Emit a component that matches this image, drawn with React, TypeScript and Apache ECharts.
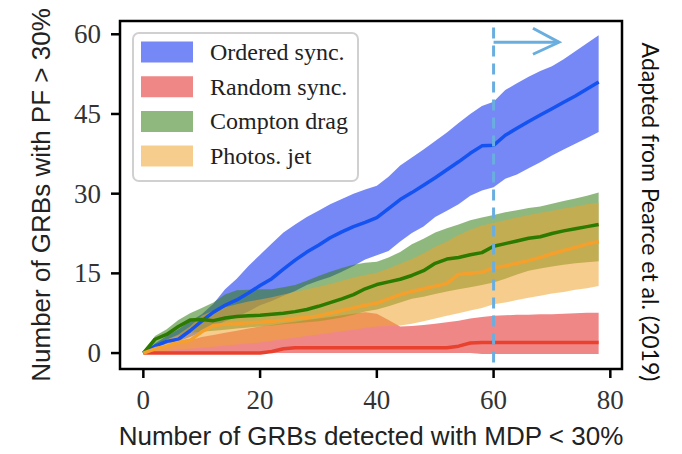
import React, { useEffect, useRef } from "react";
import * as echarts from "echarts";

// Number of GRBs detected with MDP < 30%
const xs = [0, 2, 4, 6, 8, 10, 12, 14, 16, 18, 20, 22, 24, 26, 28, 30, 32, 34, 36, 38, 40, 42, 44, 46, 48, 50, 52, 54, 56, 58, 60, 62, 64, 66, 68, 70, 72, 74, 76, 78];

// Ordered sync.
const orderedMid = [0, 1.3, 2.2, 2.6, 4.2, 6, 7.7, 9, 10, 11.3, 12.7, 14, 15.8, 17.5, 19, 20.3, 21.7, 22.8, 23.8, 24.6, 25.5, 27.2, 28.9, 30.2, 31.6, 33, 34.5, 36, 37.6, 39, 39.1, 41, 42.3, 43.6, 44.8, 46, 47.2, 48.4, 49.7, 51];
const orderedHi = [0, 1.8, 3.2, 4.5, 6, 7.3, 9.3, 12, 14, 16.4, 18.5, 20.6, 22.7, 24.2, 25.6, 26.8, 28, 29, 30, 30.8, 31.5, 33.2, 35.3, 36.8, 38.3, 39.9, 41.5, 43.3, 45, 46.5, 47.3, 49.5, 50.8, 52, 53.1, 54, 55.3, 56.8, 58.3, 59.8];
const orderedLo = [0, 1, 1.7, 2.2, 3, 4, 5, 6, 6.8, 7.8, 9, 9.8, 10.8, 11.7, 12.8, 13.6, 14.3, 15.3, 16.4, 17.6, 18.4, 19.2, 21, 22.6, 23.8, 25.6, 26.8, 28, 29.6, 30.6, 31.2, 32.8, 33.6, 34.8, 35.9, 37.2, 38.3, 39.4, 40.5, 41.6];

// Random sync.
const randomMid = [0, 0, 0, 0, 0, 0, 0, 0, 0, 0, 0, 0.3, 0.8, 1, 1, 1, 1, 1, 1, 1, 1, 1, 1, 1, 1, 1, 1, 1.3, 1.9, 2, 2, 2, 2, 2, 2, 2, 2, 2, 2, 2];
const randomHi = [0, 0.6, 1.2, 1.8, 2.4, 3, 3.4, 3.8, 4.2, 4.6, 5, 5.3, 5.6, 5.9, 6.2, 6.5, 6.8, 7.1, 7.4, 7.7, 7.4, 6.2, 5, 5.1, 5.3, 5.5, 5.8, 6.1, 6.5, 6.8, 7, 7.1, 7.2, 7.2, 7.3, 7.3, 7.4, 7.5, 7.6, 7.6];
const randomLo = [0, 0, 0, 0, 0, 0, 0, 0, 0, 0, 0, 0, 0, 0, 0, 0, 0, 0, 0, 0, 0, 0, 0, 0, 0, 0, 0, 0, 0, -0.2, -0.2, -0.2, -0.2, -0.2, -0.2, -0.2, -0.2, -0.2, -0.2, -0.2];

// Compton drag
const comptonMid = [0, 2.6, 3.5, 5, 6.2, 6.3, 6.1, 6.6, 6.9, 7, 7.1, 7.3, 7.5, 7.8, 8.2, 8.8, 9.5, 10.2, 11, 12.1, 12.9, 13.4, 13.9, 14.6, 15.5, 16.9, 17.7, 18, 18.5, 18.9, 20.1, 20.6, 21.1, 21.6, 21.9, 22.5, 23, 23.4, 23.8, 24.2];
const comptonHi = [0, 3.2, 4.5, 6.2, 7.5, 8.5, 9.5, 11, 11.8, 11.9, 12, 12, 12.4, 12.8, 13.6, 14.5, 15.3, 16, 16.6, 17, 17.2, 18, 19, 20.5, 21.5, 22.7, 23.5, 24.2, 25, 25.5, 26, 26.5, 26.9, 27.3, 27.6, 28.1, 28.6, 29.1, 29.6, 30.2];
const comptonLo = [0, 1.5, 2.5, 3.3, 3.8, 4, 4.2, 4.4, 4.6, 4.8, 5, 5.2, 5.4, 5.6, 5.8, 6, 6.3, 6.7, 7.2, 7.8, 8.2, 8.8, 9.5, 10.2, 10.6, 11.1, 11.6, 12, 12.4, 12.8, 13.3, 14, 14.8, 15.5, 15.9, 16.3, 16.6, 16.9, 17.1, 17.3];

// Photos. jet
const photoMid = [0, 0.8, 1.3, 2, 2.4, 4, 5.2, 5.4, 5.5, 5.7, 5.8, 6, 6.2, 6.5, 6.7, 7, 7.5, 8, 8.5, 9, 9.4, 10.2, 11, 11.6, 12.1, 12.6, 13.1, 14.8, 15, 15.2, 16.1, 16.4, 16.9, 17.4, 18, 18.7, 19.3, 19.9, 20.5, 21];
const photoHi = [0, 1.5, 2.5, 3.5, 5, 7, 8, 8.6, 9.2, 9.7, 10.1, 10.5, 11, 11.5, 12, 12.5, 13, 13.6, 14.2, 14.7, 15.1, 15.9, 16.8, 17.7, 18.8, 20, 21, 22.2, 23.2, 24, 24.5, 25, 25.5, 26, 26.4, 26.8, 27.2, 27.6, 28, 28.3];
const photoLo = [0, 0.2, 0.4, 0.6, 0.8, 1, 1.2, 1.4, 1.6, 1.8, 2, 2.3, 2.6, 2.9, 3.2, 3.5, 3.8, 4.1, 4.4, 4.7, 5, 5.1, 5.2, 5.5, 6, 6.5, 7, 7.5, 8, 8.5, 9.2, 9.5, 10, 10.4, 10.8, 11.2, 11.5, 11.9, 12.2, 12.6];

const xTicks = [0, 20, 40, 60, 80];
const yTicks = [0, 15, 30, 45, 60];
const X_MIN = -4, X_MAX = 82, Y_MIN = -3, Y_MAX = 62.5;

// threshold annotation: x = 60, arrow pointing right
const threshold = [60, 58.5, 71.2];

const bands = [
  { name: "Ordered sync.", hi: orderedHi, lo: orderedLo, mid: orderedMid, fill: "rgba(6,39,239,0.55)", line: "#1452f2" },
  { name: "Random sync.", hi: randomHi, lo: randomLo, mid: randomMid, fill: "rgba(228,37,37,0.55)", line: "#e8412e" },
  { name: "Compton drag", hi: comptonHi, lo: comptonLo, mid: comptonMid, fill: "rgba(51,126,20,0.55)", line: "#2d7a00" },
  { name: "Photos. jet", hi: photoHi, lo: photoLo, mid: photoMid, fill: "rgba(239,164,46,0.55)", line: "#f5a02c" },
];

const SERIF = "Liberation Serif";
const SANS = "Liberation Sans";

export default function App() {
  const ref = useRef<HTMLDivElement>(null);
  useEffect(() => {
    if (!ref.current) return;
    const chart = echarts.init(ref.current, null, { renderer: "svg" });
    const series: any[] = [];
    bands.forEach((b, k) => {
      series.push({
        type: "custom",
        name: b.name,
        itemStyle: { color: b.fill },
        encode: { x: 0, y: [1, 2] },
        data: xs.map((x, i) => [x, b.hi[i], b.lo[i]]),
        z: 2 + k,
        renderItem: (params: any, api: any) => {
          if (params.dataIndex !== 0) return null;
          const pts: number[][] = [];
          for (let i = 0; i < xs.length; i++) pts.push(api.coord([xs[i], b.hi[i]]));
          for (let i = xs.length - 1; i >= 0; i--) pts.push(api.coord([xs[i], b.lo[i]]));
          return { type: "polygon", shape: { points: pts }, style: { fill: b.fill } };
        },
      });
    });
    bands.forEach((b, k) => {
      series.push({
        type: "line",
        name: b.name + " median",
        data: xs.map((x, i) => [x, b.mid[i]]),
        showSymbol: false,
        symbol: "none",
        lineStyle: { color: b.line, width: 3.5 },
        itemStyle: { color: b.line },
        z: 10 + k,
      });
    });
    series.push({
      type: "custom",
      name: "threshold",
      data: [threshold],
      encode: { x: 0, y: 1 },
      z: 20,
      silent: true,
      renderItem: (params: any, api: any) => {
        const top = api.coord([threshold[0], 61.3]);
        const bot = api.coord([threshold[0], Y_MIN]);
        const a = api.coord([threshold[0], threshold[1]]);
        const b = api.coord([threshold[2], threshold[1]]);
        const col = "#6aaee0";
        return {
          type: "group",
          children: [
            { type: "line", shape: { x1: top[0], y1: top[1], x2: bot[0], y2: bot[1] }, style: { stroke: col, lineWidth: 3, lineDash: [11, 7] } },
            { type: "line", shape: { x1: a[0], y1: a[1], x2: b[0], y2: b[1] }, style: { stroke: col, lineWidth: 3 } },
            { type: "polyline", shape: { points: [[b[0] - 26, b[1] - 14], [b[0], b[1]], [b[0] - 26, b[1] + 12]] }, style: { stroke: col, lineWidth: 3, fill: "none" } },
          ],
        };
      },
    });
    // axes frame with outward ticks
    series.push({
      type: "custom",
      name: "frame",
      data: [[X_MIN, Y_MIN]],
      encode: { x: 0, y: 1 },
      z: 25,
      silent: true,
      clip: false,
      renderItem: (params: any, api: any) => {
        const p0 = api.coord([X_MIN, Y_MIN]);
        const p1 = api.coord([X_MAX, Y_MAX]);
        const st = { stroke: "#000", lineWidth: 2.5, fill: "none" };
        const children: any[] = [
          { type: "rect", shape: { x: p0[0], y: p1[1], width: p1[0] - p0[0], height: p0[1] - p1[1] }, style: st },
        ];
        xTicks.forEach((t) => {
          const p = api.coord([t, Y_MIN]);
          children.push({ type: "line", shape: { x1: p[0], y1: p[1], x2: p[0], y2: p[1] + 9 }, style: st });
        });
        yTicks.forEach((t) => {
          const p = api.coord([X_MIN, t]);
          children.push({ type: "line", shape: { x1: p[0] - 9, y1: p[1], x2: p[0], y2: p[1] }, style: st });
        });
        return { type: "group", children };
      },
    });

    chart.setOption({
      animation: false,
      backgroundColor: "#ffffff",
      grid: { left: 120, right: 60, top: 21, bottom: 84 },
      xAxis: {
        type: "value",
        min: X_MIN,
        max: X_MAX,
        name: "Number of GRBs detected with MDP < 30%",
        nameLocation: "middle",
        nameGap: 54,
        nameTextStyle: { fontFamily: SANS, fontSize: 26, color: "#222" },
        axisLine: { show: false, onZero: false },
        axisTick: { show: false },
        axisLabel: { fontFamily: SERIF, fontSize: 27, color: "#333", margin: 17, customValues: xTicks },
        splitLine: { show: false },
      },
      yAxis: {
        type: "value",
        min: Y_MIN,
        max: Y_MAX,
        name: "Number of GRBs with PF > 30%",
        nameLocation: "middle",
        nameGap: 66,
        nameTextStyle: { fontFamily: SANS, fontSize: 26, color: "#222" },
        axisLine: { show: false, onZero: false },
        axisTick: { show: false },
        axisLabel: { fontFamily: SERIF, fontSize: 27, color: "#333", margin: 19, customValues: yTicks },
        splitLine: { show: false },
      },
      legend: {
        data: bands.map((b) => b.name),
        orient: "vertical",
        left: 133,
        top: 33,
        padding: [7, 10, 13, 8],
        itemWidth: 52,
        itemHeight: 21,
        itemGap: 10.7,
        icon: "rect",
        backgroundColor: "#fff",
        borderColor: "#d0d0d0",
        borderWidth: 2,
        borderRadius: 6,
        selectedMode: false,
        textStyle: { fontFamily: SERIF, fontSize: 24, color: "#222", lineHeight: 24, padding: [0, 0, 0, 12] },
        z: 30,
      },
      graphic: [
        {
          type: "text",
          x: 651,
          y: 212,
          rotation: -Math.PI / 2,
          style: { text: "Adapted from Pearce et al. (2019)", fontFamily: "Lato", fontSize: 23, fill: "#111", align: "center", verticalAlign: "middle" },
        },
      ],
      series,
    });
    return () => chart.dispose();
  }, []);
  return <div ref={ref} style={{ position: "fixed", left: 0, top: 0, width: 682, height: 454 }} />;
}
